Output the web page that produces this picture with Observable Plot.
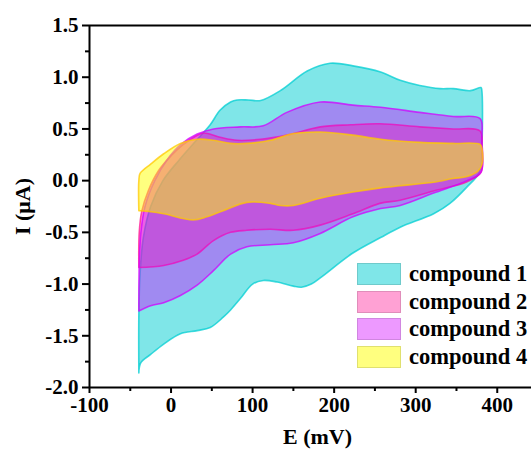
<!DOCTYPE html>
<html>
<head>
<meta charset="utf-8">
<script src="https://cdn.jsdelivr.net/npm/d3@7"></script>
<script src="https://cdn.jsdelivr.net/npm/@observablehq/plot@0.6"></script>
<style>
  html, body { margin: 0; padding: 0; background: #fff; }
  #wrap { position: relative; width: 531px; height: 451px; font-family: "Liberation Serif", "Times New Roman", serif; font-weight: bold; }
  #legend { position: absolute; left: 357px; top: 260px; }
  .row { display: flex; align-items: center; height: 27.7px; }
  .sw { width: 44px; height: 22px; box-sizing: border-box; border: 1px solid rgba(0,0,0,0.12); }
  .lab { margin-left: 8px; font-size: 22.5px; color: #000; white-space: nowrap; }
</style>
</head>
<body>
<div id="wrap"></div>
<script>
// ---- data (E in mV, I in µA), each loop: forward scan then reverse scan ----
const names = ["compound 1", "compound 2", "compound 3", "compound 4"];

const c1E = [-39.5,-39.5,-38,-34,-25,-10,10,30,48,60,73,81,95,110,134,167,195,223,257,281,305,330,346,367,380,381,381,378,
             363,342,322,281,257,223,183,172,160,150,130,113,100,85,73,64,48,32,11.5,-9,-25,-37,-39.5];
const c1I = [-1.86,-1.3,-0.9,-0.55,-0.25,0.0,0.2,0.38,0.54,0.68,0.76,0.78,0.78,0.775,0.87,1.06,1.135,1.11,1.05,0.97,0.92,0.89,0.89,0.87,0.9,0.88,0.3,0.08,
             -0.06,-0.22,-0.32,-0.45,-0.55,-0.7,-0.94,-1.0,-1.03,-1.02,-0.98,-0.965,-1.0,-1.14,-1.25,-1.32,-1.42,-1.45,-1.48,-1.58,-1.68,-1.76,-1.86];

const c2E = [-39.5,-39,-36,-28,-15,0,15,30,40,60,81,110,142,183,220,256,305,346,379,381,380,
             363,322,281,256,223,183,150,122,93,73,52,32,15,-9,-39.5];
const c2I = [-0.84,-0.5,-0.3,-0.1,0.1,0.24,0.35,0.43,0.46,0.42,0.39,0.4,0.44,0.52,0.54,0.55,0.52,0.5,0.48,0.3,0.08,
             -0.01,-0.1,-0.19,-0.22,-0.32,-0.43,-0.48,-0.47,-0.48,-0.5,-0.58,-0.71,-0.77,-0.82,-0.84];

const c3E = [-39.5,-39,-37,-32,-20,-5,12,32,52,85,113,142,183,223,257,305,346,379,381,380,
             363,322,281,257,223,183,150,122,93,73,52,32,11.5,-9,-25,-39.5];
const c3I = [-1.26,-0.8,-0.5,-0.25,0.0,0.2,0.35,0.45,0.5,0.52,0.53,0.66,0.76,0.73,0.71,0.66,0.62,0.6,0.4,0.08,
             0.0,-0.12,-0.24,-0.27,-0.35,-0.51,-0.6,-0.62,-0.64,-0.71,-0.87,-1.01,-1.11,-1.18,-1.21,-1.26];

const c4E = [-39.5,-39.5,-38,-25,-9,11.5,32,52,73,93,122,150,183,223,257,305,346,379,381.5,381,376,
             363,346,322,305,281,257,223,183,150,134,122,93,64,44,27,-9,-25,-39.5];
const c4I = [-0.29,0.0,0.07,0.16,0.26,0.36,0.4,0.39,0.36,0.36,0.39,0.455,0.47,0.44,0.40,0.37,0.36,0.35,0.3,0.15,0.09,
             0.04,0.02,-0.015,-0.03,-0.05,-0.07,-0.11,-0.17,-0.24,-0.24,-0.22,-0.21,-0.29,-0.35,-0.38,-0.32,-0.3,-0.29];

const xTicks = [-100, 0, 100, 200, 300, 400];
const xMinor = [-50, 50, 150, 250, 350];
const yTicks = [-2.0, -1.5, -1.0, -0.5, 0.0, 0.5, 1.0, 1.5];
const yMinor = [-1.75, -1.25, -0.75, -0.25, 0.25, 0.75, 1.25];
const xDomain = [-100, 442];
const yDomain = [-2.0, 1.5];
const xLabel = "E (mV)";
const yLabel = "I (μA)";

const fills   = ["rgb(0,206,209)", "rgb(255,20,147)", "rgb(210,0,255)", "rgb(255,255,0)"];
const fillOp  = [0.5, 0.4, 0.4, 0.5];
const strokes = ["rgb(0,206,209)", "rgb(255,20,147)", "rgb(210,0,255)", "rgb(255,200,0)"];

const loops = [[c1E, c1I], [c2E, c2I], [c3E, c3I], [c4E, c4I]];

const marks = [];
loops.forEach(([E, I], k) => {
  const pts = E.map((e, i) => ({E: e, I: I[i]}));
  marks.push(Plot.line(pts, {
    x: "E", y: "I", curve: "catmull-rom",
    fill: fills[k], fillOpacity: fillOp[k],
    stroke: strokes[k], strokeOpacity: 0.75, strokeWidth: 1.6
  }));
});

marks.push(
  Plot.ruleY([yDomain[1]], {stroke: "#000", strokeWidth: 2}),
  Plot.ruleY([yDomain[0]], {stroke: "#000", strokeWidth: 2}),
  Plot.ruleX([xDomain[0]], {stroke: "#000", strokeWidth: 2}),
  Plot.axisY(yTicks, {tickSize: 7, tickPadding: 4, strokeWidth: 2, fontSize: 21, tickFormat: d => d.toFixed(1), label: null}),
  Plot.axisY(yMinor, {tickSize: 4, strokeWidth: 2, tickFormat: () => "", label: null}),
  Plot.axisX(xTicks, {tickSize: 6, tickPadding: 4, strokeWidth: 2, fontSize: 21, tickFormat: d => String(d), label: null}),
  Plot.axisX(xMinor, {tickSize: 4, strokeWidth: 2, tickFormat: () => "", label: null}),
  Plot.text([yLabel], {frameAnchor: "left", dx: -67, rotate: -90, fontSize: 22, lineAnchor: "middle", textAnchor: "middle"}),
  Plot.text([xLabel], {frameAnchor: "bottom", dy: 49, dx: 7, fontSize: 22, lineAnchor: "middle"})
);

const chart = Plot.plot({
  width: 531, height: 451,
  marginLeft: 89, marginRight: 0, marginTop: 25, marginBottom: 64,
  x: {domain: xDomain},
  y: {domain: yDomain},
  style: {fontFamily: "Liberation Serif", fontWeight: "bold", color: "#000", background: "#fff", overflow: "visible"},
  marks
});

const wrap = document.getElementById("wrap");
wrap.appendChild(chart);

const legend = document.createElement("div");
legend.id = "legend";
names.forEach((n, k) => {
  const row = document.createElement("div"); row.className = "row";
  const sw = document.createElement("div"); sw.className = "sw";
  const c = d3.color(fills[k]); c.opacity = fillOp[k];
  sw.style.background = c.formatRgb();
  const lab = document.createElement("span"); lab.className = "lab"; lab.textContent = n;
  row.appendChild(sw); row.appendChild(lab);
  legend.appendChild(row);
});
wrap.appendChild(legend);
</script>
</body>
</html>
